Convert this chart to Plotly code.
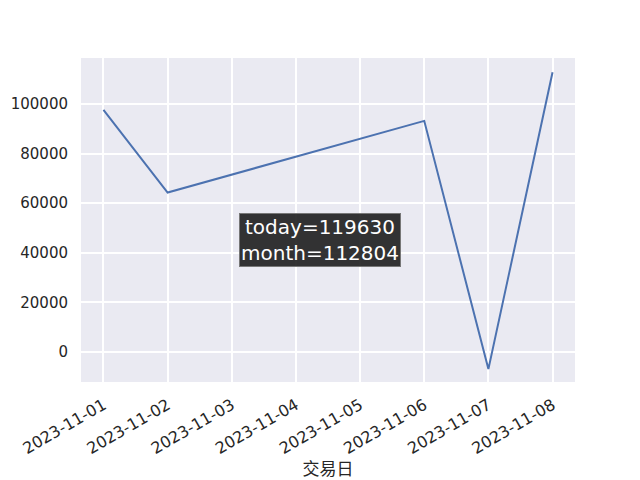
import plotly.graph_objects as go

dates = ["2023-11-01", "2023-11-02", "2023-11-06", "2023-11-07", "2023-11-08"]
values = [97600, 64300, 93200, -6900, 112804]
x_ticks = ["2023-11-01", "2023-11-02", "2023-11-03", "2023-11-04",
           "2023-11-05", "2023-11-06", "2023-11-07", "2023-11-08"]
y_ticks = [0, 20000, 40000, 60000, 80000, 100000]
today_val = 119630
month_val = 112804
x_label = "交易日"

fig = go.Figure()
fig.add_trace(go.Scatter(x=dates, y=values, mode="lines",
                         line=dict(color="#4C72B0", width=2), showlegend=False))

font = "DejaVu Sans, Noto Sans CJK SC, sans-serif"
fig.update_layout(
    width=632, height=472,
    margin=dict(l=73, r=65, t=50, b=98, autoexpand=False),
    paper_bgcolor="white", plot_bgcolor="#EAEAF2",
    font=dict(family=font, size=15, color="#262626"),
    xaxis=dict(
        type="date", automargin=False,
        range=["2023-10-31 15:36", "2023-11-08 08:24"],
        tickvals=x_ticks, ticktext=x_ticks, tickangle=-30,
        tickfont=dict(size=16),
        ticklabelstandoff=10,
        showgrid=True, gridcolor="white", gridwidth=1.5,
        zeroline=False, showline=False, ticks="",
        title=dict(text=x_label, font=dict(size=17, family=font), standoff=6),
    ),
    yaxis=dict(
        automargin=False,
        range=[-12100, 118550],
        tickvals=y_ticks, tickformat="d",
        showgrid=True, gridcolor="white", gridwidth=1.5,
        zeroline=False, showline=False, ticks="",
        ticklabelstandoff=12,
    ),
    annotations=[dict(
        x=0.484, y=0.438, xref="paper", yref="paper",
        xanchor="center", yanchor="middle", showarrow=False,
        text=f"today={today_val}<br>month={month_val}",
        font=dict(size=20, color="white", family=font),
        bgcolor="rgba(30,30,30,0.9)", bordercolor="#777777", borderwidth=1,
        borderpad=1,
    )],
)

fig.write_html("out.html")
